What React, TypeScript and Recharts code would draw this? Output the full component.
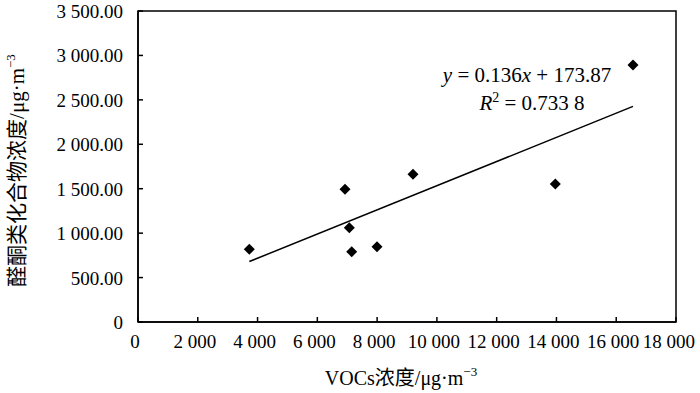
import React from 'react';
import {
  ScatterChart, Scatter, XAxis, YAxis, ReferenceArea, ReferenceLine, Label, Customized,
} from 'recharts';

// VOCs concentration (x) vs ketone/aldehyde concentration (y), μg·m-3
const VOCS = [3724, 6926, 7070, 7150, 7996, 9201, 13962, 16561];
const CARBONYLS = [818, 1493, 1061, 791, 847, 1662, 1553, 2892];

const X_TICKS = [0, 2000, 4000, 6000, 8000, 10000, 12000, 14000, 16000, 18000];
const Y_TICKS = [0, 500, 1000, 1500, 2000, 2500, 3000, 3500];

const SLOPE = 0.136;
const INTERCEPT = 173.87;

const points = VOCS.map((x, i) => ({ x, y: CARBONYLS[i] }));
const xMin = Math.min(...VOCS);
const xMax = Math.max(...VOCS);
const trend = [
  { x: xMin, y: SLOPE * xMin + INTERCEPT },
  { x: xMax, y: SLOPE * xMax + INTERCEPT },
];

const SERIF = '"Liberation Serif", "Times New Roman", "Noto Sans CJK SC", serif';
const FS = 19;

function group(n: number) {
  const s = String(Math.round(n));
  return s.replace(/\B(?=(\d{3})+(?!\d))/g, ' ');
}

function XTick(props: any) {
  const { x, y, payload } = props;
  const last = payload.value === X_TICKS[X_TICKS.length - 1];
  return (
    <g>
      <line x1={x} y1={y} x2={x} y2={y - 5} stroke="#000" strokeWidth={1.5} />
      <text
        x={last ? x + 19 : x - 3}
        y={y + 26}
        textAnchor={last ? 'end' : 'middle'}
        fontFamily={SERIF}
        fontSize={FS}
        fill="#000"
      >
        {group(payload.value)}
      </text>
    </g>
  );
}

function YTick(props: any) {
  const { x, y, payload } = props;
  const v = payload.value;
  return (
    <g>
      <line x1={x} y1={y} x2={x + 5} y2={y} stroke="#000" strokeWidth={1.5} />
      <text x={x - 15} y={y + 7} textAnchor="end" fontFamily={SERIF} fontSize={FS} fill="#000">
        {v === 0 ? '0' : group(v) + '.00'}
      </text>
    </g>
  );
}

function Diamond(props: any) {
  const { cx, cy } = props;
  const r = 5.5;
  return (
    <polygon
      points={`${cx},${cy - r} ${cx + r},${cy} ${cx},${cy + r} ${cx - r},${cy}`}
      fill="#000"
    />
  );
}

function XTitle(props: any) {
  const { x, y, width } = props.viewBox;
  return (
    <text x={x + width / 2 - 6} y={y + 63} textAnchor="middle" fontFamily={SERIF} fontSize={20} fill="#000">
      VOCs浓度/μg·m<tspan dy={-9} fontSize={13}>−3</tspan>
    </text>
  );
}

function YTitle(props: any) {
  const { y, height } = props.viewBox;
  const cx = 24;
  const cy = y + height / 2 + 4;
  return (
    <text
      x={cx}
      y={cy}
      transform={`rotate(-90, ${cx}, ${cy})`}
      textAnchor="middle"
      fontFamily={SERIF}
      fontSize={21}
      fill="#000"
    >
      醛酮类化合物浓度/μg·m<tspan dy={-9} fontSize={13}>−3</tspan>
    </text>
  );
}

function Equation() {
  return (
    <g fontFamily={SERIF} fontSize={21} fill="#000">
      <text x={527} y={82} textAnchor="middle">
        <tspan fontStyle="italic">y</tspan> = 0.136<tspan fontStyle="italic">x</tspan> + 173.87
      </text>
      <text x={532} y={110} textAnchor="middle">
        <tspan fontStyle="italic">R</tspan>
        <tspan dy={-8} fontSize={14}>2</tspan>
        <tspan dy={8}> = 0.733 8</tspan>
      </text>
    </g>
  );
}

export default function App() {
  return (
    <div style={{ position: 'absolute', left: 0, top: 0, background: '#fff' }}>
      <ScatterChart width={700} height={393} margin={{ top: 11, right: 24, bottom: 0, left: 0 }}>
        <XAxis
          type="number"
          dataKey="x"
          domain={[0, 18000]}
          ticks={X_TICKS}
          interval={0}
          height={71}
          tickSize={0}
          tickMargin={0}
          tick={<XTick />}
          axisLine={{ stroke: '#000', strokeWidth: 1.5 }}
        >
          <Label content={<XTitle />} />
        </XAxis>
        <YAxis
          type="number"
          dataKey="y"
          domain={[0, 3500]}
          ticks={Y_TICKS}
          interval={0}
          width={138}
          tickSize={0}
          tickMargin={0}
          tick={<YTick />}
          axisLine={{ stroke: '#000', strokeWidth: 1.5 }}
        >
          <Label content={<YTitle />} />
        </YAxis>
        <ReferenceArea x1={0} x2={18000} y1={0} y2={3500} fill="none" stroke="#000" strokeWidth={1.5} ifOverflow="visible" />
        <ReferenceLine segment={trend} stroke="#000" strokeWidth={1.5} ifOverflow="visible" />
        <Scatter data={points} shape={<Diamond />} isAnimationActive={false} />
        <Customized component={<Equation />} />
      </ScatterChart>
    </div>
  );
}
